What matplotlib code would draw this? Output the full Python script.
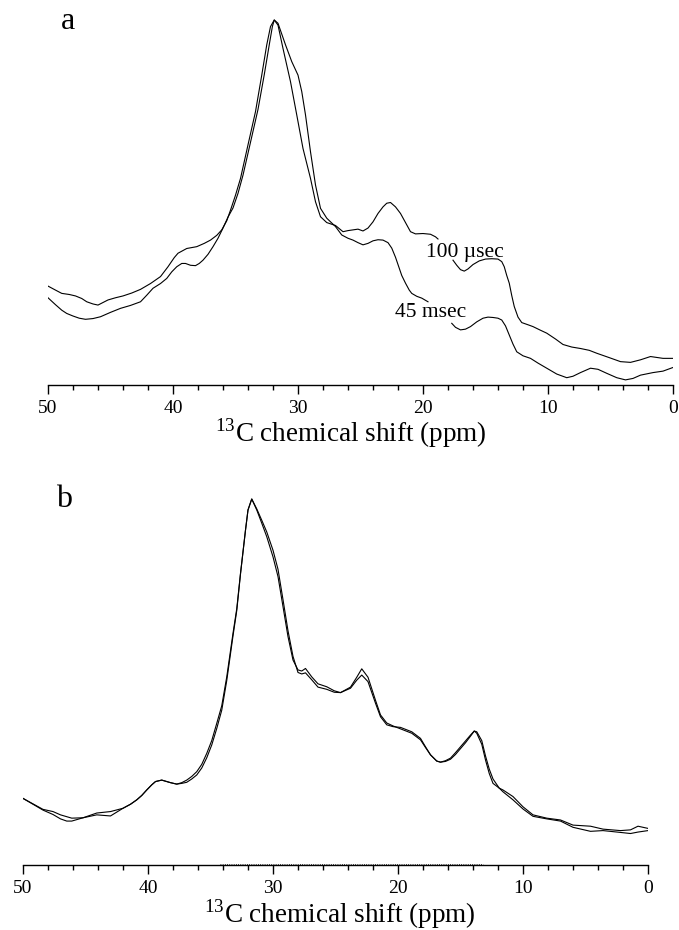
import numpy as np
import matplotlib.pyplot as plt
from matplotlib.ticker import MultipleLocator

plt.rcParams['font.family'] = ['Liberation Serif', 'DejaVu Serif']
plt.rcParams['mathtext.fontset'] = 'custom'
plt.rcParams['mathtext.rm'] = 'Liberation Serif'

nan = np.nan

# panel a : 100 usec (nan = gap where the label sits)
ppm_a_100us = [50.0, 49.4, 48.9, 48.3, 47.8, 47.3, 46.9, 46.4, 46.0, 45.6, 45.2, 44.6, 44.0, 43.3,
               42.6, 41.8, 41.0, 40.4, 39.9, 39.6, 38.9, 38.1, 37.5, 37.0, 36.5, 36.1, 35.7, 35.4,
               35.0, 34.6, 34.0, 33.4, 32.9, 32.5, 32.2, 31.9, 31.6, 31.2, 30.6, 30.1, 29.6, 29.0,
               28.6, 28.2, 27.7, 27.0, 26.4, 26.0, 25.6, 25.2, 24.8, 24.4, 24.0, 23.6, 23.2, 22.9,
               22.6, 22.2, 21.8, 21.4, 21.0, 20.6, 20.0, 19.4, 19.0, 18.8, nan,
               17.6, 17.3, 17.0, 16.7, 16.4, 16.0, 15.5, 15.0, 14.5, 14.0, 13.7, 13.5, 13.3, 13.1,
               12.9, 12.7, 12.4, 12.1, 11.6, 11.2, 10.6, 10.1, 9.4, 8.8, 8.1, 7.4, 6.7, 6.1, 5.1,
               4.2, 3.4, 2.6, 1.8, 0.8, 0.0]
int_a_100us = [27.1, 26.0, 25.1, 24.8, 24.4, 23.7, 22.8, 22.2, 21.9, 22.6, 23.3, 23.9, 24.4, 25.2,
               26.2, 27.8, 29.7, 32.4, 34.9, 36.1, 37.4, 37.9, 38.8, 39.7, 41.0, 42.5, 45.0, 47.9,
               52.0, 56.6, 65.8, 74.9, 84.9, 93.2, 98.2, 100, 98.6, 92.2, 83.1, 74.0, 64.8, 56.6,
               50.2, 46.1, 44.5, 43.7, 42.0, 42.3, 42.5, 42.7, 42.2, 43.0, 44.7, 47.0, 48.8, 49.8,
               50.0, 48.8, 47.0, 44.5, 42.0, 41.4, 41.5, 41.3, 40.6, 40.0, nan,
               34.2, 32.8, 31.6, 31.2, 31.8, 33.0, 34.0, 34.5, 34.6, 34.5, 33.8, 32.4, 30.0, 27.9,
               24.5, 21.5, 18.6, 17.1, 16.5, 16.0, 15.0, 14.2, 12.6, 11.1, 10.4, 10.0, 9.5, 8.7, 7.5,
               6.4, 6.2, 6.9, 7.8, 7.3, 7.3]

# panel a : 45 msec
ppm_a_45ms = [50.0, 49.4, 48.9, 48.5, 48.0, 47.5, 47.0, 46.4, 45.8, 45.0, 44.2, 43.4, 42.6, 42.1,
              41.6, 41.0, 40.5, 40.1, 39.7, 39.3, 39.0, 38.6, 38.2, 37.9, 37.6, 37.2, 36.8, 36.4,
              36.0, 35.6, 35.2, 34.8, 34.4, 33.8, 33.2, 32.7, 32.3, 32.05, 31.9, 31.6, 31.0, 30.5,
              30.0, 29.7, 29.4, 29.0, 28.6, 28.2, 27.7, 27.0, 26.5, 26.0, 25.6, 25.2, 24.8, 24.4,
              24.0, 23.6, 23.2, 22.8, 22.5, 22.2, 22.0, 21.7, 21.4, 21.1, 20.9, 20.5, 20.1, 19.6, nan,
              17.7, 17.4, 17.0, 16.6, 16.2, 15.7, 15.2, 14.8, 14.4, 14.0, 13.7, 13.4, 13.1, 12.8,
              12.5, 12.0, 11.4, 10.8, 10.1, 9.3, 8.5, 8.0, 7.4, 6.6, 6.0, 5.3, 4.5, 3.8, 3.2, 2.6,
              1.6, 0.8, 0.0]
int_a_45ms = [23.9, 22.0, 20.5, 19.6, 18.9, 18.3, 18.0, 18.2, 18.7, 19.9, 21.0, 21.8, 22.8, 24.6,
              26.5, 27.8, 29.2, 31.0, 32.4, 33.3, 33.3, 32.8, 32.7, 33.3, 34.2, 35.8, 37.9, 40.2,
              43.0, 46.0, 48.5, 52.5, 57.5, 66.5, 75.5, 85.0, 93.2, 98.2, 100, 99.1, 93.2, 88.6,
              84.9, 80.4, 74.0, 63.9, 54.8, 48.4, 45.7, 43.4, 41.1, 40.2, 39.7, 39.0, 38.4, 38.8,
              39.5, 39.8, 39.7, 39.0, 37.5, 35.0, 33.0, 30.0, 27.9, 26.0, 25.1, 24.3, 23.8, 22.8, nan,
              16.9, 15.8, 15.1, 15.3, 16.0, 17.3, 18.3, 18.6, 18.5, 18.3, 17.8, 16.2, 13.7, 11.2,
              9.1, 8.0, 7.3, 6.0, 4.6, 3.0, 2.0, 2.4, 3.4, 4.6, 4.3, 3.2, 2.0, 1.4, 1.8, 2.7,
              3.4, 3.8, 4.8]

# panel b : two nearly identical spectra
ppm_b = [50.0, 49.2, 48.4, 47.6, 47.0, 46.5, 46.1, 45.2, 44.1, 43.0, 42.0, 41.4, 40.9, 40.5, 40.1,
         39.7, 39.4, 38.9, 38.5, 38.2, 37.7, 37.3, 36.9, 36.5, 36.1, 35.7, 35.3, 34.9, 34.5, 34.1,
         33.7, 33.2, 32.9, 32.6, 32.2, 32.0, 31.7, 31.3, 30.9, 30.5, 30.0, 29.6, 29.2, 28.8, 28.4,
         28.0, 27.7, 27.4, 26.9, 26.4, 25.7, 25.1, 24.6, 23.8, 23.3, 22.9, 22.4, 21.8, 21.4, 20.9,
         20.4, 19.8, 18.9, 18.2, 17.8, 17.4, 16.9, 16.6, 16.2, 15.8, 15.4, 15.0, 14.6, 14.2, 13.9,
         13.7, 13.3, 13.0, 12.7, 12.4, 11.9, 11.6, 10.8, 10.0, 9.2, 8.1, 7.0, 6.0, 4.6, 3.6, 2.2,
         1.4, 0.8, 0.0]
int_b1 = [18.2, 16.7, 15.2, 14.6, 13.7, 13.2, 12.8, 12.9, 13.7, 13.4, 15.5, 16.6, 17.8, 19.0, 20.5,
          21.9, 22.8, 23.2, 22.8, 22.5, 22.1, 22.5, 23.2, 24.2, 25.5, 27.5, 30.5, 34.0, 38.7, 43.5,
          51.4, 63.3, 70.0, 79.7, 91.5, 97.0, 100, 97.0, 93.4, 89.7, 84.2, 78.8, 70.6, 62.4, 56.0,
          53.3, 53.0, 53.7, 51.4, 49.5, 48.7, 47.6, 47.1, 48.3, 50.5, 51.9, 50.1, 44.2, 40.5, 38.3,
          37.8, 37.6, 36.4, 34.6, 32.3, 30.1, 28.4, 28.1, 28.5, 29.2, 30.7, 32.3, 33.9, 35.5, 36.6,
          36.0, 33.0, 28.7, 25.0, 22.3, 21.0, 20.5, 18.7, 15.9, 13.7, 12.8, 12.3, 10.9, 10.6, 9.8, 9.4,
          9.6, 10.6, 10.0]
int_b2 = [18.2, 16.6, 15.0, 13.8, 12.6, 12.0, 12.0, 12.9, 14.2, 14.6, 15.5, 16.6, 17.8, 19.0, 20.5,
          21.9, 22.8, 23.2, 22.8, 22.5, 22.1, 22.3, 22.6, 23.5, 24.6, 26.5, 29.3, 32.8, 37.3, 42.3,
          50.4, 62.6, 69.5, 79.5, 91.5, 97.0, 100, 97.3, 94.2, 91.0, 86.0, 80.8, 72.5, 64.0, 57.0,
          52.6, 52.2, 52.5, 50.6, 48.6, 48.0, 47.2, 47.1, 48.6, 51.3, 53.6, 51.3, 45.0, 41.0, 38.8,
          38.0, 37.2, 36.0, 34.2, 32.1, 30.1, 28.4, 28.1, 28.3, 28.9, 30.2, 31.8, 33.4, 35.2, 36.6,
          36.4, 34.0, 29.8, 26.2, 23.5, 21.0, 20.0, 17.8, 15.3, 13.3, 12.6, 12.0, 10.3, 9.2, 9.4, 8.9,
          8.6, 9.0, 9.4]
# faint difference trace near the baseline
ppm_b_diff = [34.2, 13.2]
int_b_diff = [0.4, 0.4]

tick_values = [50, 40, 30, 20, 10, 0]
xlabel = r'$^{13}$C chemical shift (ppm)'

W, H = 679, 930
fig = plt.figure(figsize=(W / 100, H / 100), dpi=100)


def make_axes(left, right, base, top, px_per_unit):
    ax = fig.add_axes([left / W, (H - base) / H, (right - left) / W, (base - top) / H])
    ax.set_xlim(50, 0)
    ax.set_ylim(0, (base - top) / px_per_unit)
    for s in ['top', 'left', 'right']:
        ax.spines[s].set_visible(False)
    ax.spines['bottom'].set_linewidth(1.0)
    ax.set_yticks([])
    ax.set_xticks(tick_values)
    ax.xaxis.set_minor_locator(MultipleLocator(2))
    ax.tick_params(axis='x', which='major', direction='out', length=6.5, width=1.0,
                   labelsize=14, pad=4)
    ax.tick_params(axis='x', which='minor', direction='out', length=3.6, width=1.0)
    ax.patch.set_alpha(0)
    return ax


def px_text(x, y, s, size, ha='left'):
    fig.text(x / W, 1 - y / H, s, fontsize=size, ha=ha, va='baseline')


# a
ax_a = make_axes(48, 673, 385, 10, 3.65)
ax_a.plot(ppm_a_100us, int_a_100us, color='black', lw=0.8)
ax_a.plot(ppm_a_45ms, int_a_45ms, color='black', lw=0.8)
px_text(426, 257, '100 µsec', 15.5)
px_text(395, 317, '45 msec', 15.5)
px_text(61, 29, 'a', 23)
px_text(215, 442, xlabel, 19.5)

# b
ax_b = make_axes(23, 648, 865, 490, 3.66)
ax_b.plot(ppm_b, int_b1, color='black', lw=0.8)
ax_b.plot(ppm_b, int_b2, color='black', lw=0.8)
ax_b.plot(ppm_b_diff, int_b_diff, color='black', lw=0.6, ls=':')
px_text(56, 507, 'b', 23)
px_text(204, 923, xlabel, 19.5)

fig.savefig('out.png', dpi=100)
